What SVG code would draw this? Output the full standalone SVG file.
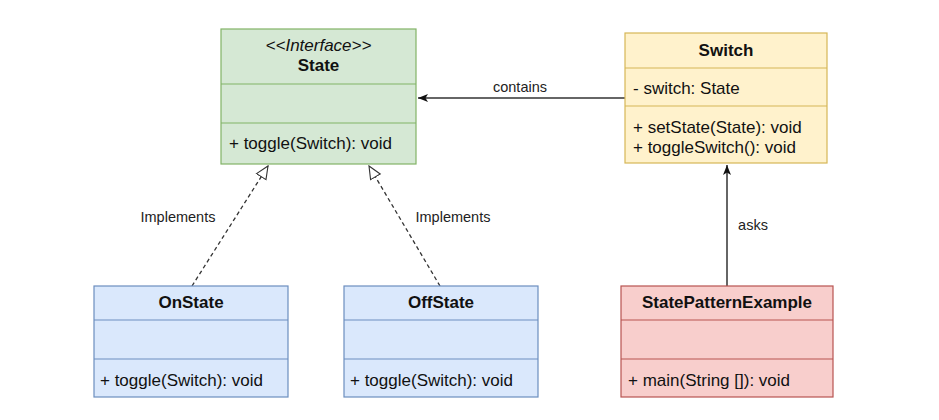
<svg xmlns="http://www.w3.org/2000/svg" width="939" height="420" viewBox="0 0 939 420">
<style>
text{font-family:"Liberation Sans",Arial,sans-serif;font-size:17px;fill:#111}
.t{font-weight:bold;text-anchor:middle}
.i{font-style:italic;text-anchor:middle}
.m{text-anchor:start}
.l{font-size:14.5px;text-anchor:middle;fill:#222}
.g rect,.g line{fill:#d5e8d4;stroke:#82b366;stroke-width:1.2}
.y rect,.y line{fill:#fff2cc;stroke:#d6b656;stroke-width:1.2}
.b rect,.b line{fill:#dae8fc;stroke:#6c8ebf;stroke-width:1.2}
.r rect,.r line{fill:#f8cecc;stroke:#b85450;stroke-width:1.2}
.c{stroke:#333;stroke-width:1.3;fill:none}
.d{stroke-dasharray:4 3}
.a{stroke:#666;stroke-width:2}
</style>
<defs>
<marker id="hollow" viewBox="0 0 20 20" refX="19" refY="10" markerWidth="14" markerHeight="14" markerUnits="userSpaceOnUse" orient="auto">
<path d="M1,2 L19,10 L1,18 Z" fill="#fff" stroke="#333" stroke-width="1.6"/>
</marker>
<marker id="filled" viewBox="0 0 10 10" refX="10" refY="5" markerWidth="10" markerHeight="10" markerUnits="userSpaceOnUse" orient="auto">
<path d="M0,1 L10,5 L0,9 L2.5,5 Z" fill="#111"/>
</marker>
</defs>
<g id="connectors">
<line class="c d" x1="192" y1="286" x2="268" y2="166" marker-end="url(#hollow)"/>
<line class="c d" x1="440" y1="286" x2="369" y2="166" marker-end="url(#hollow)"/>
<line class="c" x1="625" y1="98" x2="418" y2="98" marker-end="url(#filled)"/>
<line class="c a" x1="727" y1="286" x2="727" y2="165" marker-end="url(#filled)"/>
<text class="l" x="178" y="222">Implements</text>
<text class="l" x="453" y="222">Implements</text>
<text class="l" x="520" y="92">contains</text>
<text class="l" x="753" y="230">asks</text>
</g>
<g id="State" class="g">
<rect x="221" y="29" width="195" height="135"/>
<line x1="221" y1="84" x2="416" y2="84"/>
<line x1="221" y1="123" x2="416" y2="123"/>
<text class="i" x="318.5" y="51">&lt;&lt;Interface&gt;&gt;</text>
<text class="t" x="318.5" y="71">State</text>
<text class="m" x="229" y="149">+ toggle(Switch): void</text>
</g>
<g id="Switch" class="y">
<rect x="625" y="33" width="202" height="130"/>
<line x1="625" y1="68" x2="827" y2="68"/>
<line x1="625" y1="106" x2="827" y2="106"/>
<text class="t" x="726" y="56">Switch</text>
<text class="m" x="633" y="94">- switch: State</text>
<text class="m" x="633" y="133">+ setState(State): void</text>
<text class="m" x="633" y="153">+ toggleSwitch(): void</text>
</g>
<g id="OnState" class="b">
<rect x="94" y="286" width="194" height="111"/>
<line x1="94" y1="320" x2="288" y2="320"/>
<line x1="94" y1="359" x2="288" y2="359"/>
<text class="t" x="191" y="308">OnState</text>
<text class="m" x="100" y="386">+ toggle(Switch): void</text>
</g>
<g id="OffState" class="b">
<rect x="344" y="286" width="194" height="111"/>
<line x1="344" y1="320" x2="538" y2="320"/>
<line x1="344" y1="359" x2="538" y2="359"/>
<text class="t" x="441" y="308">OffState</text>
<text class="m" x="350" y="386">+ toggle(Switch): void</text>
</g>
<g id="StatePatternExample" class="r">
<rect x="621" y="286" width="212" height="111"/>
<line x1="621" y1="320" x2="833" y2="320"/>
<line x1="621" y1="359" x2="833" y2="359"/>
<text class="t" x="727" y="308">StatePatternExample</text>
<text class="m" x="628" y="386">+ main(String []): void</text>
</g>
</svg>
